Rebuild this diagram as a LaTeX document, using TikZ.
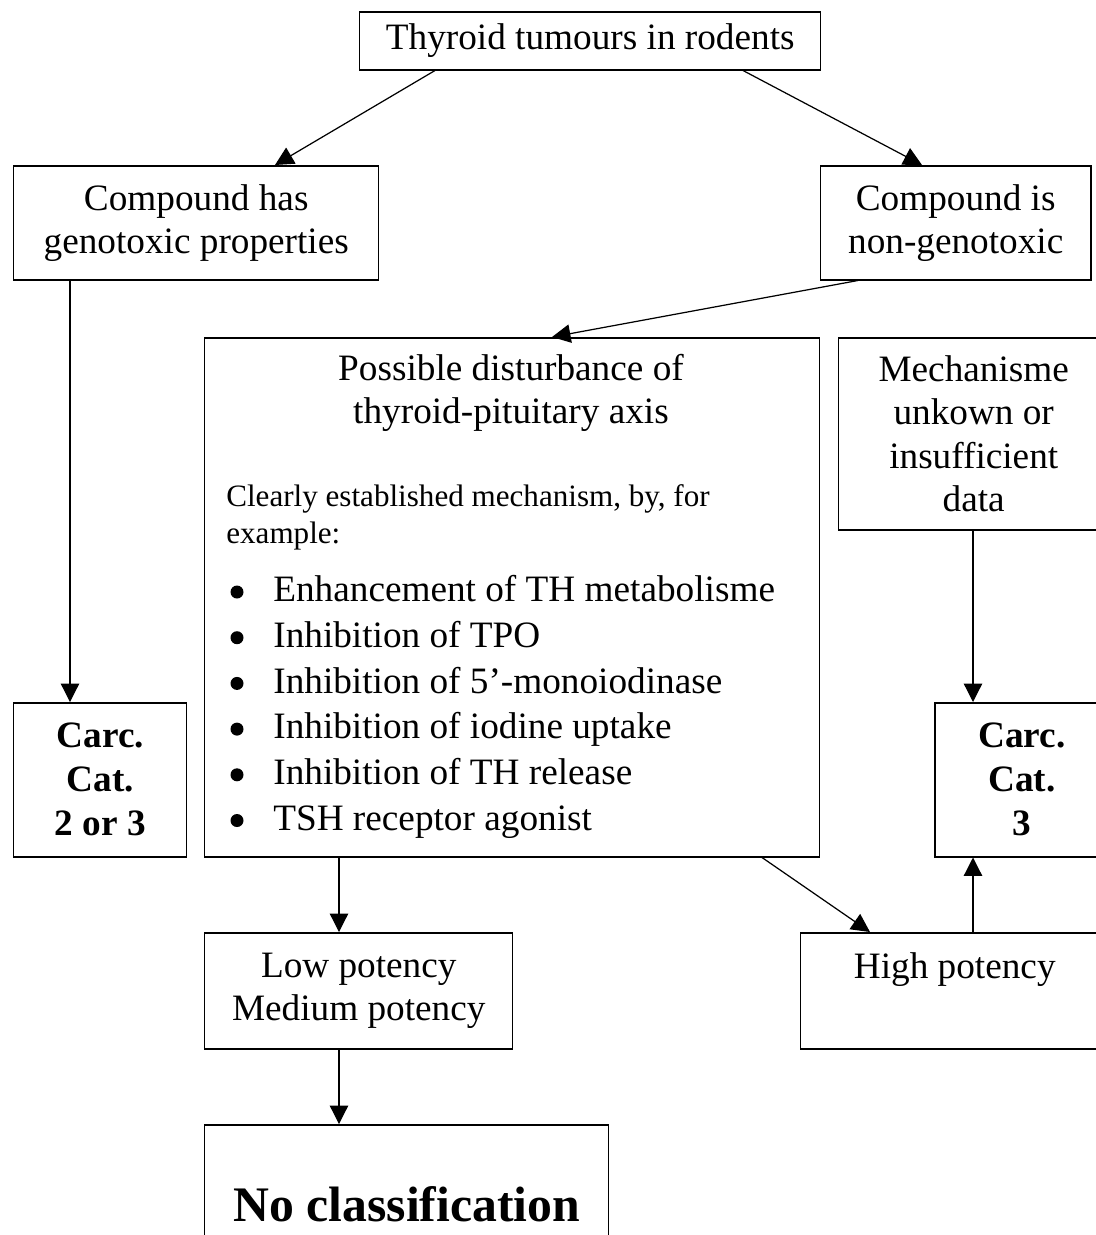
\documentclass[tikz,border=0pt]{standalone}
\usepackage{fontspec}
\setmainfont{Liberation Serif}
\usetikzlibrary{positioning, arrows.meta, calc}
\newlength{\px}
\setlength{\px}{0.02cm}
\newcommand{\itm}[1]{\hspace*{45\px}#1}

\begin{document}
\begin{tikzpicture}[
    x=0.02cm, y=-0.02cm,
    box/.style={rectangle, draw=black, line width=0.85pt, anchor=north west, inner sep=0pt, align=center, font=\fontsize{21.2}{24.5}\selectfont},
    carc/.style={box, minimum width=176\px, minimum height=154\px, font=\fontsize{21.2}{25}\selectfont\bfseries},
    txt/.style={inner sep=0pt, align=center, font=\fontsize{21.2}{24.5}\selectfont},
    note/.style={inner sep=0pt, align=left, anchor=west, font=\fontsize{17.7}{21}\selectfont},
    arr/.style={-{Triangle[length=10.5pt, width=10.5pt]}, line width=0.7pt, draw=black}
]
    \useasboundingbox (0,0) rectangle (1096,1235);
    \clip (0,0) rectangle (1096,1235);

    \node[box, minimum width=461\px, minimum height=58\px] (rodents) at (359,11) {Thyroid tumours in rodents};

    \node[box, minimum width=365\px, minimum height=114\px] (geno) at (13,165) {Compound has\\genotoxic properties};
    \node[box, minimum width=270\px, minimum height=114\px] (nongeno) at (820,165) {Compound is\\non-genotoxic};

    \draw[arr] ($(rodents.south west)+(76,0)$) -- ($(geno.north west)+(262,0)$);
    \draw[arr] ($(rodents.south west)+(384,0)$) -- ($(nongeno.north west)+(102,0)$);

    % thyroid-pituitary axis
    \node[box, minimum width=615\px, minimum height=519\px] (axisbox) at (204,337) {};
    \node[txt] (axis) at (511,393) {Possible disturbance of\\thyroid-pituitary axis};
    \node[note] (clearly) at (226,517) {Clearly established mechanism, by, for\\example:};
    \node[txt, align=left, anchor=west, font=\fontsize{21.2}{26}\selectfont] (mechs) at (228,707) {%
        \itm{Enhancement of TH metabolisme}\\
        \itm{Inhibition of TPO}\\
        \itm{Inhibition of 5’-monoiodinase}\\
        \itm{Inhibition of iodine uptake}\\
        \itm{Inhibition of TH release}\\
        \itm{TSH receptor agonist}};
    \foreach \i in {0,...,5}
        \fill (237,{592+45.7*\i}) circle (6.5);

    \node[box, minimum width=270\px, minimum height=192\px] (unknown) at (838,337) {Mechanisme\\unkown or\\insufficient\\data};

    \draw[arr] ($(nongeno.south west)+(38,0)$) -- ($(axisbox.north west)+(348,0)$);

    \node[carc, minimum width=173\px] (cat23) at (13,702) {Carc.\\Cat.\\2 or 3};
    \node[carc, minimum width=174\px] (cat3) at (934,702) {Carc.\\Cat.\\3};

    \draw[arr] ($(geno.south west)+(57,0)$) -- ($(cat23.north west)+(57,0)$);
    \draw[arr] ($(unknown.south west)+(135,0)$) -- ($(cat3.north west)+(39,0)$);

    \node[box, minimum width=308\px, minimum height=116\px] (low) at (204,932) {Low potency\\Medium potency};
    \node[box, minimum width=308\px, minimum height=116\px] (high) at (800,932) {High potency\\\phantom{Hg}};

    \draw[arr] ($(axisbox.south west)+(135,0)$) -- ($(low.north west)+(135,0)$);
    \draw[arr] ($(axisbox.south west)+(558,0)$) -- ($(high.north west)+(70,0)$);
    \draw[arr] ($(high.north west)+(173,0)$) -- ($(cat3.south west)+(39,0)$);

    \node[box, minimum width=404\px, minimum height=158\px, font=\fontsize{28.3}{32}\selectfont\bfseries] (nocls) at (204,1124) {No classification};

    \draw[arr] ($(low.south west)+(135,0)$) -- ($(nocls.north west)+(135,0)$);
\end{tikzpicture}
\end{document}
